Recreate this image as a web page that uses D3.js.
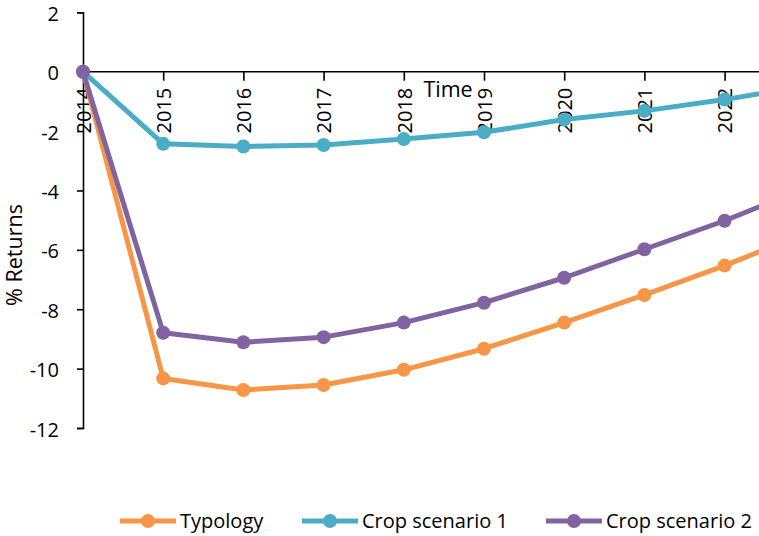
<!DOCTYPE html>
<html><head><meta charset="utf-8">
<script src="https://cdn.jsdelivr.net/npm/d3@7"></script>
<style>html,body{margin:0;padding:0;background:#fff;}svg{display:block;font-family:"Open Sans",sans-serif;}</style>
</head><body>
<svg id="c" width="759" height="536"></svg>
<script>
const years = ["2014","2015","2016","2017","2018","2019","2020","2021","2022","2023"];
const typology = [0,-10.33,-10.72,-10.55,-10.04,-9.33,-8.45,-7.52,-6.53,-5.45];
const cropScenario1 = [0,-2.43,-2.52,-2.47,-2.27,-2.04,-1.61,-1.32,-0.94,-0.48];
const cropScenario2 = [0,-8.79,-9.11,-8.94,-8.45,-7.78,-6.94,-5.98,-5.02,-3.93];
const yTicks = [2,0,-2,-4,-6,-8,-10,-12];
const xTickLabels = ["2014","2015","2016","2017","2018","2019","2020","2021","2022"];
const seriesNames = ["Typology","Crop scenario 1","Crop scenario 2"];
const colors = ["#F79646","#4BACC6","#8064A2"];

const series = [typology, cropScenario1, cropScenario2].map((v,i)=>({name:seriesNames[i],color:colors[i],values:v}));
const FONT = "'Open Sans', sans-serif";

const svg = d3.select("#c");
const x = d3.scalePoint().domain(years).range([83, 83 + 80.2*(years.length-1)]);
const y = d3.scaleLinear().domain([-12,2]).range([428,12.3]);

// y axis
const ya = svg.append("g").attr("transform","translate(83,0)")
  .call(d3.axisLeft(y).tickValues(yTicks).tickSize(6).tickPadding(18).tickFormat(d=>d));
ya.select(".domain").attr("stroke","#000").attr("stroke-width",1.6);
ya.selectAll(".tick line").attr("stroke","#000").attr("stroke-width",1.6);
ya.selectAll(".tick text").attr("font-size",20).attr("font-family",FONT).attr("fill","#000").attr("dy","0.4em");

// x axis at y=0
const xa = svg.append("g").attr("transform",`translate(0,${y(0)})`)
  .call(d3.axisBottom(x).tickValues(xTickLabels).tickSize(9).tickSizeOuter(0).tickPadding(0));
xa.select(".domain").attr("stroke","#000").attr("stroke-width",1.6).attr("d",`M83,0H759`);
xa.selectAll(".tick line").attr("stroke","#000").attr("stroke-width",1.6);
xa.selectAll(".tick text").attr("font-size",20).attr("font-family",FONT).attr("fill","#000")
  .attr("text-anchor","end").attr("dy","0.36em").attr("transform","translate(0,16) rotate(-90)").attr("x",0).attr("y",0);

// axis titles
svg.append("text").attr("x",448).attr("y",97).attr("text-anchor","middle")
  .attr("font-size",21.5).attr("fill","#000").text("Time");
svg.append("text").attr("transform","translate(22,255) rotate(-90)").attr("text-anchor","middle")
  .attr("font-size",21.5).attr("fill","#000").text("% Returns");

// lines
const line = d3.line().x((d,i)=>x(years[i])).y(d=>y(d));
series.forEach(s=>{
  const g = svg.append("g");
  g.append("path").attr("d",line(s.values)).attr("fill","none").attr("stroke",s.color)
    .attr("stroke-width",5).attr("stroke-linejoin","round").attr("stroke-linecap","round");
  g.selectAll("circle").data(s.values).join("circle")
    .attr("cx",(d,i)=>x(years[i])).attr("cy",d=>y(d)).attr("r",7).attr("fill",s.color);
});

// legend
const legX = [120,302,546];
const lg = svg.append("g");
series.forEach((s,i)=>{
  const g = lg.append("g").attr("transform",`translate(${legX[i]},521)`);
  g.append("line").attr("x1",0).attr("x2",56).attr("y1",0).attr("y2",0).attr("stroke",s.color).attr("stroke-width",5);
  g.append("circle").attr("cx",28).attr("cy",0).attr("r",7).attr("fill",s.color);
  g.append("text").attr("x",60).attr("y",0).attr("dy","0.36em").attr("font-size",20).attr("fill","#000").text(s.name);
});
</script>
</body></html>
